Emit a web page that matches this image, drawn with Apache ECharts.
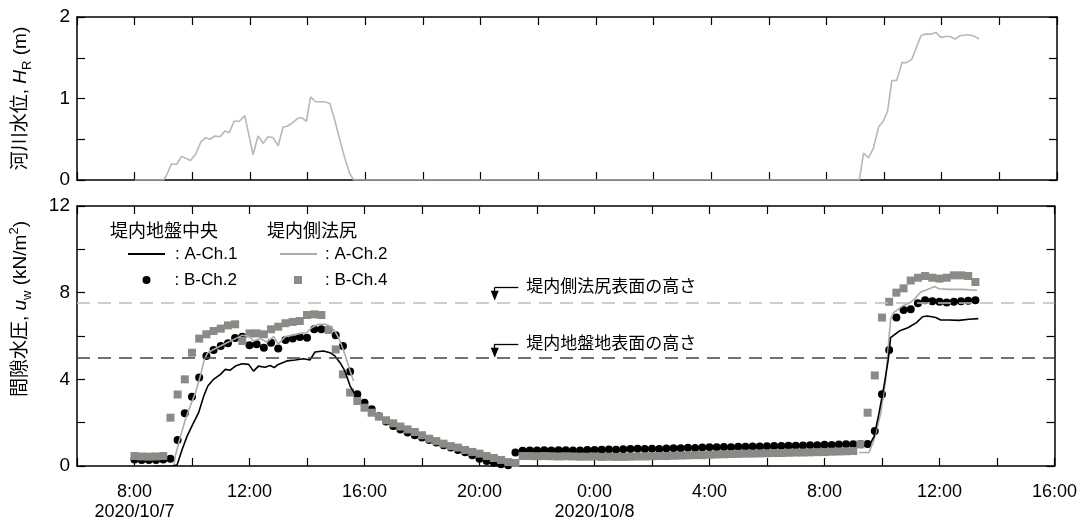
<!DOCTYPE html>
<html><head><meta charset="utf-8">
<script src="https://cdn.jsdelivr.net/npm/echarts/dist/echarts.min.js"></script>
<style>html,body{margin:0;padding:0;background:#fff}#c{width:1080px;height:528px}</style>
</head><body><div id="c"></div>
<script>
// ---------- data (x = hours since 2020/10/7 0:00) ----------
const xLabelHours = [8, 12, 16, 20, 24, 28, 32, 36, 40];
const xLabelTexts = ['8:00', '12:00', '16:00', '20:00', '0:00', '4:00', '8:00', '12:00', '16:00'];
const xDateTexts  = ['2020/10/7', '', '', '', '2020/10/8', '', '', '', ''];
const yTopLabels = [0, 1, 2];
const yBottomLabels = [0, 4, 8, 12];

// River water level H_R (m)
const riverTimes = [8.0, 9.0, 9.11, 9.28, 9.45, 9.63, 9.94, 10.12, 10.3, 10.47, 10.61, 10.78, 10.96, 11.13, 11.28, 11.45, 11.63, 11.82, 12.11, 12.28, 12.46, 12.63, 12.8, 12.98, 13.15, 13.29, 13.47, 13.67, 13.82, 13.96, 14.1, 14.28, 14.6, 14.77, 14.94, 15.12, 15.29, 15.46, 15.6,
  33.14, 33.29, 33.46, 33.63, 33.81, 33.97, 34.12, 34.27, 34.44, 34.62, 34.78, 34.96, 35.28, 35.43, 35.63, 35.8, 35.97, 36.15, 36.29, 36.47, 36.63, 36.84, 37.0, 37.16, 37.3];
const riverValues = [0, 0, 0.06, 0.2, 0.19, 0.29, 0.24, 0.32, 0.47, 0.52, 0.5, 0.54, 0.53, 0.6, 0.58, 0.72, 0.72, 0.79, 0.31, 0.54, 0.45, 0.53, 0.52, 0.42, 0.65, 0.66, 0.7, 0.76, 0.76, 0.72, 1.02, 0.96, 0.96, 0.94, 0.74, 0.49, 0.27, 0.08, 0,
  0, 0.33, 0.27, 0.39, 0.65, 0.72, 0.84, 1.22, 1.22, 1.44, 1.44, 1.48, 1.77, 1.79, 1.79, 1.81, 1.75, 1.76, 1.76, 1.73, 1.77, 1.78, 1.78, 1.76, 1.73];

// A-Ch.1 (堤内地盤中央), null = data gap
const aCh1Times = [8.67, 9.3, 9.48, 9.66, 9.83, 10.0, 10.23, 10.41, 10.55, 10.75, 10.99, 11.16, 11.33, 11.51, 11.74, 11.97, 12.14, 12.31, 12.54, 12.72, 12.86, 13.0, 13.3, 13.59, 13.88, 14.1, 14.28, 14.57, 14.8, 14.97, 15.15, 15.32, 15.5, 15.65,
  24,
  33.38, 33.56, 33.73, 33.9, 34.07, 34.22, 34.3, 34.36, 34.6, 34.9, 35.2, 35.41, 35.58, 35.87, 36.04, 36.33, 36.68, 37.03, 37.35];
const aCh1Values = [0, 0, 0.05, 0.77, 1.38, 1.85, 2.46, 3.23, 3.69, 4.0, 4.23, 4.46, 4.42, 4.61, 4.72, 4.69, 4.38, 4.61, 4.56, 4.64, 4.54, 4.69, 4.85, 4.89, 4.95, 4.89, 5.26, 5.31, 5.23, 5.08, 4.77, 4.38, 3.69, 3.35,
  null,
  0.95, 0.95, 1.38, 2.46, 3.69, 4.92, 5.92, 6.0, 6.23, 6.38, 6.62, 6.89, 6.92, 6.85, 6.74, 6.74, 6.72, 6.77, 6.8];

// A-Ch.2 (堤内側法尻)
const aCh2Times = [8.67, 9.37, 9.42, 9.6, 9.77, 9.94, 10.12, 10.29, 10.43, 10.55, 10.75, 10.99, 11.22, 11.51, 11.74, 11.97, 12.14, 12.37, 12.6, 12.84, 13.0, 13.24, 13.47, 13.76, 13.99, 14.16, 14.39, 14.62, 14.8, 14.97, 15.15, 15.32, 15.5, 15.62,
  24,
  33.2, 33.55, 33.73, 33.96, 34.13, 34.22, 34.3, 34.4, 34.71, 34.94, 35.12, 35.35, 35.58, 35.84, 35.98, 36.33, 36.79, 37.31];
const aCh2Values = [0, 0, 0.46, 1.38, 2.15, 2.77, 3.38, 4.15, 4.92, 5.23, 5.38, 5.54, 5.69, 5.88, 6.03, 6.0, 5.77, 5.88, 5.72, 5.97, 5.62, 5.97, 6.03, 6.12, 6.15, 6.38, 6.54, 6.54, 6.46, 6.23, 5.77, 5.15, 4.38, 3.92,
  null,
  0.62, 0.62, 1.23, 2.46, 4.0, 5.54, 6.77, 7.08, 7.38, 7.51, 7.69, 8.03, 8.15, 8.28, 8.18, 8.15, 8.15, 8.11];

// B channels sampled every 15 min from 8:00 on 10/7
const bStartHour = 8;
const bStepHour = 0.25;
const bCh2Values = [
  0.30, 0.28, 0.28, 0.28,  0.30, 0.34, 1.20, 2.43,  3.20, 4.08, 5.08, 5.35,  5.54, 5.66, 5.91, 5.97,
  5.57, 5.62, 5.46, 5.69,  5.42, 5.82, 5.89, 5.95,  5.92, 6.31, 6.31, 6.30,  6.03, 5.54, 4.36, 3.31,
  2.92, 2.62, 2.30, 2.05,  1.85, 1.69, 1.55, 1.42,  1.32, 1.20, 1.08, 0.96,  0.85, 0.74, 0.63, 0.50,
  0.34, 0.23, 0.15, 0.08,  0.03, 0.62, 0.70, 0.72,  0.72, 0.73, 0.72, 0.73,  0.73, 0.72, 0.72, 0.74,
  0.74, 0.75, 0.76, 0.75,  0.77, 0.78, 0.80, 0.79,  0.80, 0.79, 0.81, 0.82,  0.82, 0.84, 0.83, 0.85,
  0.86, 0.86, 0.88, 0.87,  0.89, 0.89, 0.90, 0.90,  0.91, 0.92, 0.92, 0.94,  0.93, 0.95, 0.96, 0.96,
  0.98, 0.97, 0.99, 1.00,  1.00, 1.00, 1.01, 1.62,  3.31, 5.35, 6.85, 7.20,  7.23, 7.51, 7.65, 7.60,
  7.58, 7.55, 7.58, 7.60,  7.63, 7.65];
const bCh4Values = [
  0.46, 0.44, 0.43, 0.44,  0.46, 2.23, 3.30, 4.00,  5.23, 5.88, 6.08, 6.23,  6.34, 6.49, 6.54, 5.77,
  6.12, 6.12, 6.08, 6.31,  6.43, 6.59, 6.65, 6.69,  6.97, 7.00, 6.97, 6.28,  5.38, 4.23, 3.39, 3.00,
  2.69, 2.46, 2.28, 2.11,  1.97, 1.82, 1.69, 1.57,  1.42, 1.26, 1.15, 1.03,  0.92, 0.85, 0.74, 0.65,
  0.57, 0.46, 0.37, 0.28,  0.18, 0.14, 0.46, 0.46,  0.45, 0.46, 0.45, 0.44,  0.45, 0.44, 0.43, 0.43,
  0.44, 0.42, 0.43, 0.42,  0.42, 0.43, 0.44, 0.44,  0.45, 0.46, 0.46, 0.47,  0.48, 0.49, 0.50, 0.50,
  0.52, 0.53, 0.54, 0.55,  0.56, 0.57, 0.57, 0.58,  0.59, 0.60, 0.60, 0.61,  0.62, 0.62, 0.63, 0.64,
  0.64, 0.66, 0.67, 0.68,  0.69, 1.00, 2.46, 4.18,  6.85, 7.58, 8.00, 8.20,  8.56, 8.69, 8.77, 8.69,
  8.65, 8.69, 8.80, 8.80,  8.77, 8.49];

// reference levels (kN/m2) and annotations
const refLevels = [7.55, 5.0];
const annTexts = ['堤内側法尻表面の高さ', '堤内地盤地表面の高さ'];
const annX = 20.53, annLineEnd = 21.35;
const annTop = [8.24, 5.62];
const annTip = [7.86, 5.23];

// ---------- chart ----------
const FONT = '"Liberation Sans", "Noto Sans CJK JP", sans-serif';
const pairs = (t, v) => t.map((x, i) => [x, v[i] === null ? '-' : v[i]]);
const bTimes = bCh2Values.map((_, i) => bStartHour + i * bStepHour);

const chart = echarts.init(document.getElementById('c'), null, {renderer: 'canvas'});

const tickStyle = {inside: true, length: 8, lineStyle: {color: '#000', width: 1.2}};
const lineStyleAxis = {lineStyle: {color: '#000', width: 1.5}};
function xAx(grid, pos, withLabels) {
  return {
    type: 'value', gridIndex: grid, position: pos, min: 6, max: 40, interval: 2,
    axisLine: Object.assign({onZero: false}, lineStyleAxis), axisTick: tickStyle, splitLine: {show: false},
    axisLabel: withLabels ? {
      show: true, fontSize: 18, color: '#000', fontFamily: FONT, margin: 16, lineHeight: 20,
      formatter: v => {
        const i = xLabelHours.indexOf(v);
        if (i < 0) return '';
        return xDateTexts[i] ? xLabelTexts[i] + '\n' + xDateTexts[i] : xLabelTexts[i];
      }
    } : {show: false}
  };
}
const rich = {
  i: {fontStyle: 'italic', fontSize: 19, fontFamily: FONT, lineHeight: 26},
  s: {fontSize: 13, fontFamily: FONT, verticalAlign: 'bottom', lineHeight: 14},
  p: {fontSize: 13, fontFamily: FONT, verticalAlign: 'top', lineHeight: 12}
};
function yAx(grid, pos, max, interval, labels, name, pad) {
  return {
    type: 'value', gridIndex: grid, position: pos, min: 0, max: max, interval: interval,
    axisLine: Object.assign({onZero: false}, lineStyleAxis), axisTick: tickStyle, splitLine: {show: false},
    axisLabel: labels ? {show: true, fontSize: 19, color: '#000', fontFamily: FONT, margin: 7,
      formatter: v => labels.indexOf(v) >= 0 ? String(v) : ''} : {show: false},
    name: name || '', nameLocation: 'middle', nameRotate: 90, nameGap: 43,
    nameTextStyle: {fontSize: 19, color: '#000', fontFamily: FONT, lineHeight: 26, rich: rich, padding: pad || 0}
  };
}

const legendBase = {orient: 'horizontal', selectedMode: false,
  textStyle: {fontSize: 17, color: '#000', fontFamily: FONT, lineHeight: 18},
  formatter: ': {name}'};
function leg(name, icon, left, top, w, h, textPad) {
  return Object.assign({}, legendBase, {
    data: [{name: name, icon: icon}], left: left, top: top, itemWidth: w, itemHeight: h, padding: 0,
    textStyle: Object.assign({}, legendBase.textStyle, {padding: [0, 0, 0, textPad]})
  });
}

const option = {
  animation: false,
  backgroundColor: '#fff',
  grid: [
    {left: 77, right: 23, top: 17, height: 163},
    {left: 77, right: 23, top: 206, height: 260}
  ],
  xAxis: [xAx(0, 'bottom', false), xAx(0, 'top', false), xAx(1, 'bottom', true), xAx(1, 'top', false)],
  yAxis: [
    yAx(0, 'left', 2, 0.5, yTopLabels, '河川水位, {i|H}{s|R} (m)'),
    yAx(0, 'right', 2, 0.5, null),
    yAx(1, 'left', 12, 2, yBottomLabels, '間隙水圧, {i|u}{s|w} (kN/m{p|2})', [0, 0, 0, 54]),
    yAx(1, 'right', 12, 2, null)
  ],
  legend: [
    leg('A-Ch.1', 'rect', 128, 245, 37, 2, 5),
    leg('B-Ch.2', 'circle', 142.5, 271, 8, 8, 19),
    leg('A-Ch.2', 'rect', 280, 245, 37, 2, 3),
    leg('B-Ch.4', 'rect', 294, 271, 8, 8, 18)
  ],
  graphic: [
    {type: 'text', left: 110, top: 223, style: {text: '堤内地盤中央', font: '18px ' + FONT, fill: '#000'}},
    {type: 'text', left: 267, top: 223, style: {text: '堤内側法尻', font: '18px ' + FONT, fill: '#000'}}
  ],
  series: [
    {
      name: 'River', type: 'line', xAxisIndex: 0, yAxisIndex: 0, data: pairs(riverTimes, riverValues),
      symbol: 'none', lineStyle: {color: '#b8b8b8', width: 1.6}, itemStyle: {color: '#b8b8b8'}
    },
    {
      name: 'B-Ch.2', type: 'scatter', xAxisIndex: 2, yAxisIndex: 2, data: pairs(bTimes, bCh2Values),
      symbol: 'circle', symbolSize: 8, itemStyle: {color: '#000', opacity: 1},
      markLine: {
        silent: true, symbol: 'none', animation: false,
        lineStyle: {type: 'solid', color: '#000', width: 1.3},
        label: {show: false},
        data: [
          {yAxis: refLevels[0], lineStyle: {color: '#bdbdbd', type: [13, 8], width: 1.5}},
          {yAxis: refLevels[1], lineStyle: {color: '#444', type: [13, 8], width: 1.5}},
          [{coord: [annX, annTop[0]], symbol: 'none'}, {coord: [annX, annTip[0]], symbol: 'triangle', symbolSize: [8, 10]}],
          [{coord: [annX, annTop[1]], symbol: 'none'}, {coord: [annX, annTip[1]], symbol: 'triangle', symbolSize: [8, 10]}],
          [{coord: [annX, annTop[0]]}, {coord: [annLineEnd, annTop[0]],
            label: {show: true, position: 'end', distance: 8, formatter: annTexts[0], fontSize: 17, color: '#000', fontFamily: FONT}}],
          [{coord: [annX, annTop[1]]}, {coord: [annLineEnd, annTop[1]],
            label: {show: true, position: 'end', distance: 8, formatter: annTexts[1], fontSize: 17, color: '#000', fontFamily: FONT}}]
        ]
      }
    },
    {
      name: 'B-Ch.4', type: 'scatter', xAxisIndex: 2, yAxisIndex: 2, data: pairs(bTimes, bCh4Values),
      symbol: 'rect', symbolSize: 8, itemStyle: {color: '#8a8b86', opacity: 1}
    },
    {
      name: 'A-Ch.2', type: 'line', xAxisIndex: 2, yAxisIndex: 2, data: pairs(aCh2Times, aCh2Values),
      symbol: 'none', connectNulls: false, lineStyle: {color: '#ababab', width: 1.6}, itemStyle: {color: '#ababab'}
    },
    {
      name: 'A-Ch.1', type: 'line', xAxisIndex: 2, yAxisIndex: 2, data: pairs(aCh1Times, aCh1Values),
      symbol: 'none', connectNulls: false, lineStyle: {color: '#000', width: 1.6}, itemStyle: {color: '#000'}
    }
  ]
};
chart.setOption(option);
</script></body></html>
